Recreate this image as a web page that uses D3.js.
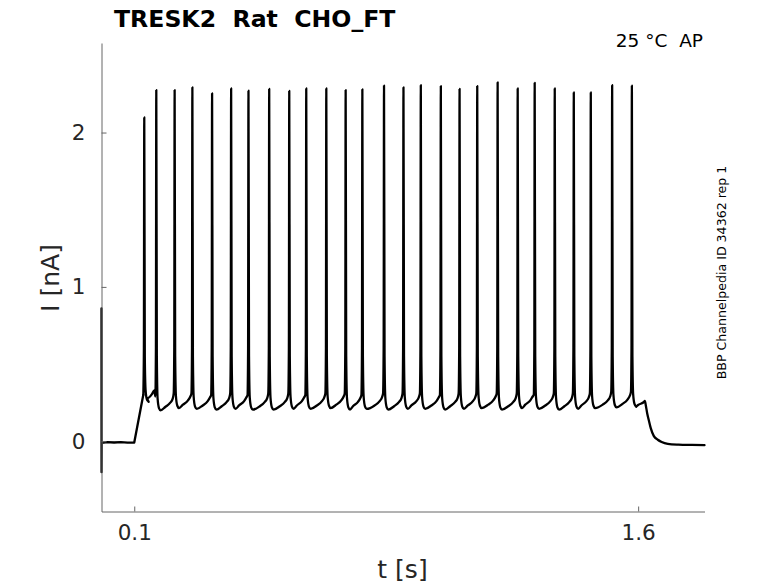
<!DOCTYPE html>
<html>
<head>
<meta charset="utf-8">
<script src="https://cdn.jsdelivr.net/npm/d3@7"></script>
<style>
  body { margin: 0; background: #fff; }
  svg { display: block; }
  text { font-family: "DejaVu Sans", sans-serif; fill: #262626; white-space: pre; }
</style>
</head>
<body>
<svg width="778" height="583"></svg>
<script>
// spike times (s) and peak currents (nA)
const spikeT = [0.1298, 0.1656, 0.2202, 0.2730, 0.3317, 0.3884, 0.4400, 0.5017, 0.5614,
  0.6120, 0.6717, 0.7293, 0.7790, 0.8435, 0.9014, 0.9530, 1.0126, 1.0684, 1.1210,
  1.1817, 1.2414, 1.2920, 1.3517, 1.4084, 1.4590, 1.5226, 1.5813];
const spikePeak = [2.098, 2.275, 2.275, 2.293, 2.254, 2.286, 2.271, 2.282, 2.269,
  2.286, 2.286, 2.275, 2.280, 2.304, 2.293, 2.307, 2.301, 2.282, 2.301,
  2.325, 2.286, 2.322, 2.286, 2.260, 2.260, 2.307, 2.303];
// minimum after each spike (nA) and level just before each spike takes off
const ahpTrough = [0.255, 0.20, 0.215, 0.21, 0.205, 0.21, 0.205, 0.205, 0.21,
  0.21, 0.215, 0.205, 0.21, 0.205, 0.21, 0.21, 0.205, 0.21, 0.215,
  0.205, 0.215, 0.21, 0.205, 0.21, 0.215, 0.22, 0.225];
const preSpike = [0.30, 0.29, 0.31, 0.31, 0.30, 0.31, 0.30, 0.31, 0.31,
  0.30, 0.31, 0.31, 0.30, 0.31, 0.31, 0.31, 0.30, 0.31, 0.31,
  0.31, 0.31, 0.30, 0.31, 0.31, 0.31, 0.32, 0.32];
// holding period and step onset
const onsetT = [0.0025, 0.0027, 0.0031, 0.02, 0.04, 0.06, 0.08, 0.1, 0.1268];
const onsetI = [0.86, -0.20, -0.01, -0.005, -0.008, -0.006, -0.009, -0.008, 0.30];
// end of step and tail back to holding
const tailT = [1.5998, 1.6176, 1.6200, 1.6226, 1.6270, 1.6315, 1.6375, 1.6464, 1.6584, 1.6700, 1.6882, 1.72, 1.76, 1.7975];
const tailI = [0.235, 0.255, 0.262, 0.235, 0.180, 0.138, 0.085, 0.035, 0.010, -0.005, -0.017, -0.022, -0.024, -0.025];

const xTicks = [0.1, 1.6];
const yTicks = [0, 1, 2];

const svg = d3.select('svg');
const x = d3.scaleLinear().domain([0.0025, 1.7975]).range([101.5, 704.5]);
const y = d3.scaleLinear().domain([-0.455, 2.58]).range([511.5, 43]);

// spike train vertices, drawn with a monotone curve
const train = [];
spikeT.forEach((t, i) => {
  train.push([t - 0.0028, preSpike[i]], [t - 0.0011, 0.6], [t, spikePeak[i]],
             [t + 0.0016, 0.55], [t + 0.0038, ahpTrough[i] + 0.08],
             [t + 0.008, ahpTrough[i] + 0.015], [t + 0.013, ahpTrough[i]]);
  const next = spikeT[i + 1];
  if (next) {
    train.push([next - 0.028, ahpTrough[i] + 0.022], [next - 0.013, ahpTrough[i] + 0.05],
               [next - 0.006, ahpTrough[i] + 0.075]);
  }
});
const onset = onsetT.map((t, i) => [t, onsetI[i]]);
const tail = [train[train.length - 1]].concat(tailT.map((t, i) => [t, tailI[i]]));

const lineLin = d3.line().x(d => x(d[0])).y(d => y(d[1]));
const lineSmooth = d3.line().x(d => x(d[0])).y(d => y(d[1])).curve(d3.curveMonotoneX);

const trace = svg.append('g')
  .attr('fill', 'none')
  .attr('stroke', '#000')
  .attr('stroke-width', 2.3)
  .attr('stroke-linejoin', 'round')
  .attr('stroke-linecap', 'round');
trace.append('path').attr('d', lineLin(onset.concat([train[0]])));
trace.append('path').attr('d', lineSmooth(train));
trace.append('path').attr('d', lineSmooth(tail));

const xAxis = svg.append('g')
  .attr('transform', 'translate(0,511.5)')
  .call(d3.axisBottom(x).tickValues(xTicks).tickFormat(d3.format('.1f'))
    .tickSizeInner(-5).tickSizeOuter(0).tickPadding(13));
const yAxis = svg.append('g')
  .attr('transform', 'translate(101.5,0)')
  .call(d3.axisLeft(y).tickValues(yTicks).tickFormat(d3.format('d'))
    .tickSizeInner(-5).tickSizeOuter(0).tickPadding(16));

[xAxis, yAxis].forEach(g => {
  g.selectAll('path, line').attr('stroke', '#666').attr('stroke-width', 1);
  g.selectAll('text').attr('font-size', 21.5).attr('fill', '#262626')
    .attr('font-family', '"DejaVu Sans", sans-serif');
});

svg.append('text')
  .attr('x', 114).attr('y', 26.5)
  .attr('font-size', 23.6).attr('font-weight', 'bold').style('fill', '#000')
  .text('TRESK2  Rat  CHO_FT');

svg.append('text')
  .attr('x', 703).attr('y', 47.3)
  .attr('text-anchor', 'end').attr('font-size', 18.5).style('fill', '#000')
  .text('25 °C  AP');

svg.append('text')
  .attr('transform', 'translate(725.5,272.5) rotate(-90)')
  .attr('text-anchor', 'middle').attr('font-size', 12.6).style('fill', '#000')
  .text('BBP Channelpedia ID 34362 rep 1');

svg.append('text')
  .attr('transform', 'translate(58.5,278) rotate(-90)')
  .attr('text-anchor', 'middle').attr('font-size', 25)
  .text('I [nA]');

svg.append('text')
  .attr('x', 402.5).attr('y', 577.5)
  .attr('text-anchor', 'middle').attr('font-size', 25)
  .text('t [s]');
</script>
</body>
</html>
